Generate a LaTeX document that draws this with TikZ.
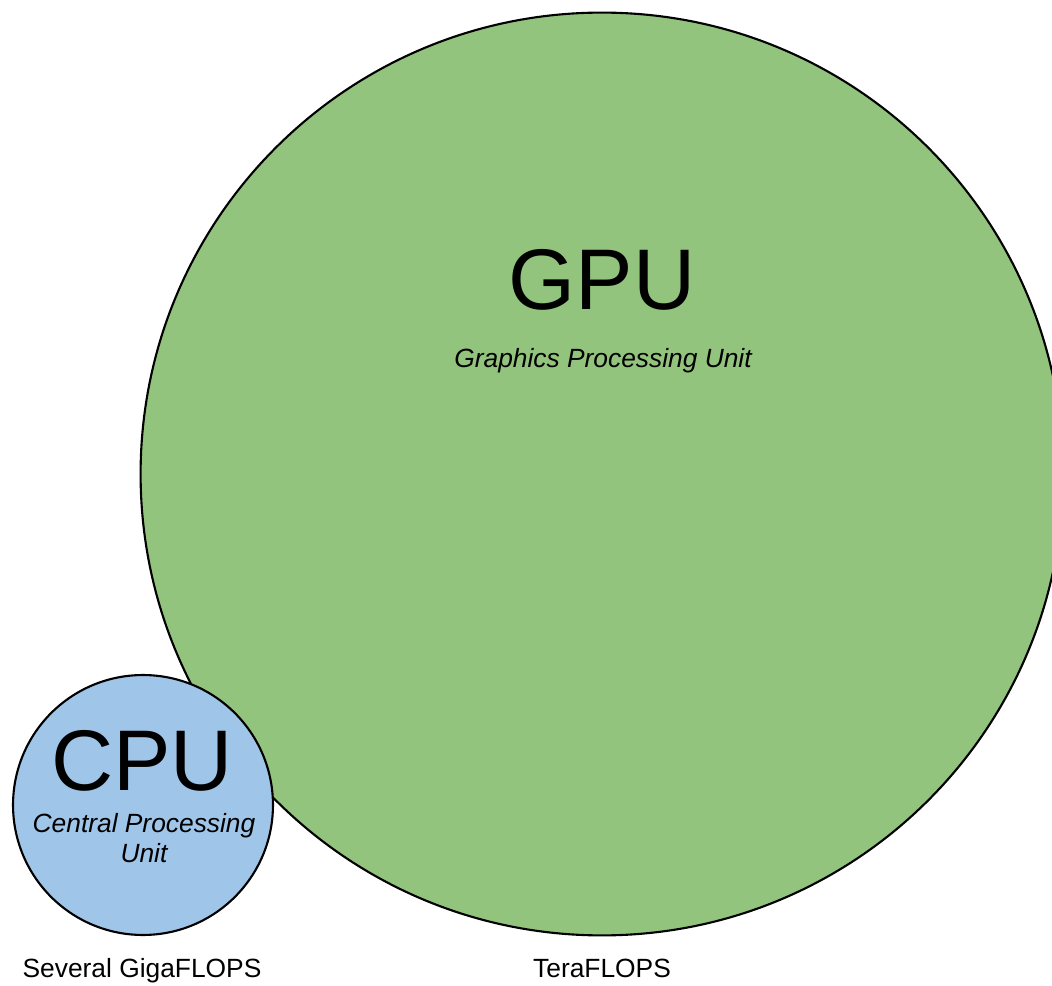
\documentclass[tikz,border=0pt]{standalone}
\usepackage{fontspec}
\setmainfont{Liberation Sans}
\usepackage{tikz}
\usetikzlibrary{positioning}

\definecolor{gpugreen}{HTML}{93C47D}
\definecolor{cpublue}{HTML}{9FC5E8}

\begin{document}
\begin{tikzpicture}[
            x=0.02cm, y=-0.02cm,
            every node/.style={inner sep=0pt},
            unit ball/.style={circle,draw=black,line width=1.2pt},
            big label/.style={anchor=base,font=\fontsize{49}{55}\selectfont},
            small label/.style={anchor=base,align=center,font=\fontsize{15}{17}\selectfont\itshape},
            flops label/.style={anchor=base,font=\fontsize{15}{17}\selectfont}
        ]
        \useasboundingbox (0,0) rectangle (1052,986);
        \clip (0,0) rectangle (1052,986);
        % the two processors
        \node[unit ball,fill=gpugreen,minimum size=18.46cm] (gpu ball) at (602,474) {};
        \node[unit ball,fill=cpublue,minimum size=5.2cm] (cpu ball) at (143,805) {};
        % names
        \node[big label] (gpu name) at (602,310) {GPU};
        \node[small label] (gpu text) at (603,368) {Graphics Processing Unit};
        \node[big label] (cpu name) at (142,790) {CPU};
        \node[small label] (cpu text) at (144,862) {Central Processing\\Unit};
        % speeds
        \node[flops label] (cpu flops) at (142,977) {Several GigaFLOPS};
        \node[flops label] (gpu flops) at (602,977) {TeraFLOPS};
    \end{tikzpicture}
\end{document}
